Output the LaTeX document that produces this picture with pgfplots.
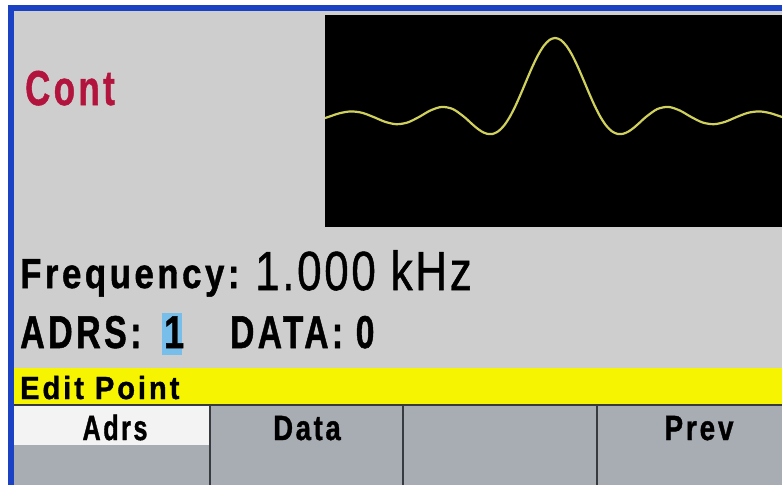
\documentclass[border=0pt]{standalone}
\usepackage{pgfplots}
\pgfplotsset{compat=1.18}
\usepackage{pgfplotstable}
\usepackage{fontspec}
\setmainfont{Liberation Sans}
\newfontfamily\lcdfam[LetterSpace=10, BoldFeatures={FakeBold=1.2}]{Liberation Sans}
\newfontfamily\numfam[LetterSpace=6, FakeBold=1.0]{Liberation Sans}
\definecolor{panel}{RGB}{206,206,206}
\definecolor{frameblue}{RGB}{28,66,196}
\definecolor{contred}{RGB}{178,20,62}
\definecolor{trace}{RGB}{208,208,92}
\definecolor{baryellow}{RGB}{246,244,0}
\definecolor{keygrey}{RGB}{168,173,179}
\definecolor{keywhite}{RGB}{243,243,243}
\definecolor{sep}{RGB}{55,58,62}
\definecolor{hilite}{RGB}{120,190,235}
\pgfplotstableread{
x y
-5.1 -0.0193
-5 0
-4.75 0.04739
-4.5 0.07074
-4.25 0.05296
-4 0
-3.75 -0.06002
-3.5 -0.09095
-3.25 -0.06926
-3 0
-2.75 0.08185
-2.5 0.12732
-2.25 0.10004
-2 0
-1.875 -0.06497
-1.75 -0.12862
-1.625 -0.18097
-1.5 -0.21221
-1.375 -0.21388
-1.25 -0.18006
-1.125 -0.10828
-1 0
-0.875 0.13921
-0.75 0.30011
-0.625 0.47053
-0.5 0.63662
-0.375 0.78421
-0.25 0.90032
-0.125 0.97450
0 1
0.125 0.97450
0.25 0.90032
0.375 0.78421
0.5 0.63662
0.625 0.47053
0.75 0.30011
0.875 0.13921
1 0
1.125 -0.10828
1.25 -0.18006
1.375 -0.21388
1.5 -0.21221
1.625 -0.18097
1.75 -0.12862
1.875 -0.06497
2 0
2.25 0.10004
2.5 0.12732
2.75 0.08185
3 0
3.25 -0.06926
3.5 -0.09095
3.75 -0.06002
4 0
4.25 0.05296
4.5 0.07074
4.75 0.04739
5 0
5.1 -0.0193
}\sinc
\newcommand{\lcd}[3]{\scalebox{#1}[1]{\lcdfam\fontsize{#2}{#2}\selectfont\bfseries #3}}
\begin{document}
\begin{tikzpicture}[x=1pt,y=1pt]
\useasboundingbox (0,0) rectangle (782,-485);
\clip (0,0) rectangle (782,-485);
\fill[white] (0,0) rectangle (782,-485);
\fill[frameblue] (8,-5) rectangle (782,-485);
\fill[panel] (14,-11) rectangle (782,-485);
% yellow status bar
\fill[baryellow] (14,-368) rectangle (782,-405);
\draw[sep, line width=1.2pt] (14,-405) -- (782,-405);
% softkeys
\fill[keygrey] (14,-406) rectangle (782,-485);
\fill[keywhite] (14,-406) rectangle (210,-445);
\foreach \sx in {210,403,597} {\draw[sep, line width=1.6pt] (\sx,-406) -- (\sx,-485);}
% waveform window
\begin{axis}[at={(325pt,-227pt)}, anchor=south west,
  width=457pt, height=212pt, scale only axis,
  xmin=-5.07, xmax=5.0, ymin=-1.392, ymax=1.291,
  axis background/.style={fill=black},
  axis line style={draw=none}, ticks=none, clip=true]
\addplot[trace, line width=2.2pt, smooth, no marks] table[x=x,y=y] {\sinc};
\end{axis}
% texts
\node[anchor=base west, inner sep=0, text=contred] at (25,-105) {\lcd{0.71}{49pt}{Cont}};
\node[anchor=base west, inner sep=0] at (20,-288) {\lcd{0.83}{42pt}{Frequency:}};
\node[anchor=base west, inner sep=0] at (255,-290) {\scalebox{0.80}[1]{\numfam\fontsize{55pt}{55pt}\selectfont 1.000 kHz}};
\fill[hilite] (162,-313) rectangle (182,-355);
\node[anchor=base west, inner sep=0] at (20,-348) {\lcd{0.74}{46pt}{ADRS:}};
\node[anchor=base west, inner sep=0] at (164,-348) {\lcd{0.78}{46pt}{1}};
\node[anchor=base west, inner sep=0] at (230,-348) {\lcd{0.73}{46pt}{DATA: 0}};
\node[anchor=base west, inner sep=0] at (20,-399) {\lcd{0.91}{32pt}{Edit Point}};
\node[anchor=base, inner sep=0] at (115,-440) {\lcd{0.72}{35pt}{Adrs}};
\node[anchor=base, inner sep=0] at (307,-440) {\lcd{0.78}{35pt}{Data}};
\node[anchor=base, inner sep=0] at (699,-440) {\lcd{0.80}{35pt}{Prev}};
\end{tikzpicture}
\end{document}
